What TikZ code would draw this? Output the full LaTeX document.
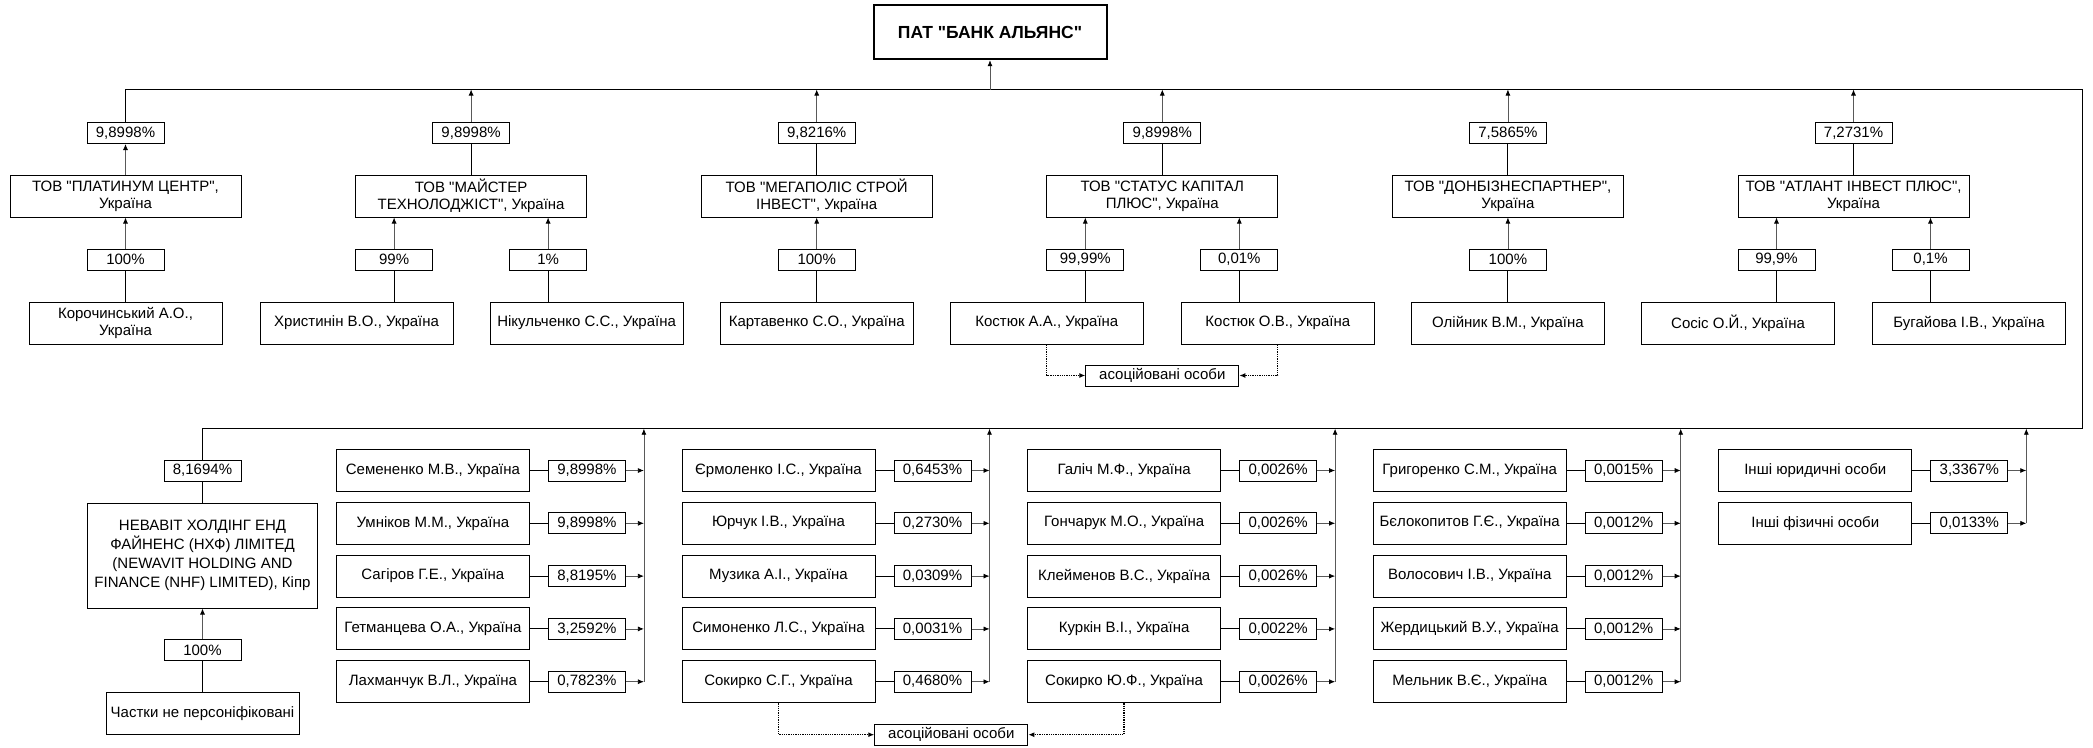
\documentclass[tikz,border=0pt]{standalone}
\usepackage{fontspec}
\setmainfont{Liberation Sans}[Ligatures=TeXOff]
\usetikzlibrary{arrows.meta}

\tikzset{
  owner/.style={draw, line width=1pt, minimum width=193pt, minimum height=42pt, inner sep=0pt, align=center},
  firm/.style={owner, minimum width=231pt},
  share/.style={draw, line width=1pt, minimum width=77pt, minimum height=21pt, inner sep=0pt},
  link/.style={line width=0.9pt},
  up/.style={line width=0.8pt, black!65, -{Latex[length=6pt,width=5pt,color=black]}},
  assoc/.style={line width=1.3pt, densely dotted, -{Latex[length=6pt,width=5pt]}},
}

\begin{document}
\begin{tikzpicture}[x=1pt, y=-1pt, font=\fontsize{15}{17}\selectfont]
\useasboundingbox (0,0) rectangle (2093,747);
\node[draw, line width=2pt, minimum width=233pt, minimum height=54pt, font=\fontsize{17.5}{20}\selectfont\bfseries] (bank) at (990,32.2) {ПАТ "БАНК АЛЬЯНС"};
\coordinate (tr) at (2082,89.5);
\coordinate (br) at (2082,428.7);

% first row of owners
\node[share] (pplat) at (125.5,133) {9,8998\%};
\node[firm] (plat) at (125.5,196) {ТОВ "ПЛАТИНУМ ЦЕНТР",\\Україна};
\node[share] (pkorch) at (125.5,259.5) {100\%};
\node[owner] (korch) at (125.5,323) {Корочинський А.О.,\\Україна};

\node[share] (pmayst) at (471.1,133) {9,8998\%};
\node[firm] (mayst) at (471.1,196) {ТОВ "МАЙСТЕР\\ТЕХНОЛОДЖІСТ", Україна};
\node[share] (pkhrys) at (394.1,259.5) {99\%};
\node[share] (pnikul) at (548.1,259.5) {1\%};
\node[owner] (khrys) at (356.6,323) {Христинін В.О., Україна};
\node[owner] (nikul) at (586.6,323) {Нікульченко С.С., Україна};

\node[share] (pmega) at (816.7,133) {9,8216\%};
\node[firm] (mega) at (816.7,196) {ТОВ "МЕГАПОЛІС СТРОЙ\\ІНВЕСТ", Україна};
\node[share] (pkart) at (816.7,259.5) {100\%};
\node[owner] (kart) at (816.7,323) {Картавенко С.О., Україна};

\node[share] (pstatus) at (1162.3,133) {9,8998\%};
\node[firm] (status) at (1162.3,196) {ТОВ "СТАТУС КАПІТАЛ\\ПЛЮС", Україна};
\node[share] (pkost1) at (1085.3,259.5) {99,99\%};
\node[share] (pkost2) at (1239.3,259.5) {0,01\%};
\node[owner] (kost1) at (1046.8,323) {Костюк А.А., Україна};
\node[owner] (kost2) at (1277.8,323) {Костюк О.В., Україна};
\node[share, minimum width=153pt] (rel1) at (1162.3,375.5) {асоційовані особи};

\node[share] (pdonb) at (1507.9,133) {7,5865\%};
\node[firm] (donb) at (1507.9,196) {ТОВ "ДОНБІЗНЕСПАРТНЕР",\\Україна};
\node[share] (poliin) at (1507.9,259.5) {100\%};
\node[owner] (oliin) at (1507.9,323) {Олійник В.М., Україна};

\node[share] (patlant) at (1853.5,133) {7,2731\%};
\node[firm] (atlant) at (1853.5,196) {ТОВ "АТЛАНТ ІНВЕСТ ПЛЮС",\\Україна};
\node[share] (psosis) at (1776.5,259.5) {99,9\%};
\node[share] (pbuh) at (1930.5,259.5) {0,1\%};
\node[owner] (sosis) at (1738,323) {Сосіс О.Й., Україна};
\node[owner] (buh) at (1969,323) {Бугайова І.В., Україна};

% second row of owners
\node[share] (pnhf) at (202.5,470.6) {8,1694\%};
\node[owner, minimum width=230pt, minimum height=105pt, font=\fontsize{15}{19}\selectfont] (nhf) at (202.5,555.5) {НЕВАВІТ ХОЛДІНГ ЕНД\\ФАЙНЕНС (НХФ) ЛІМІТЕД\\(NEWAVIT HOLDING AND\\FINANCE (NHF) LIMITED), Кіпр};
\node[share] (pchast) at (202.5,650) {100\%};
\node[owner] (chast) at (202.5,713.7) {Частки не персоніфіковані};

% main frame
\draw[link] (pplat.north) |- (tr) -- (br) -| (pnhf.north);
\draw[up] (bank |- tr) -- (bank);
\draw[up] (plat) -- (pplat);
\draw[up] (pkorch) -- (plat);
\draw[link] (korch) -- (pkorch);
\draw[up] (pmayst) -- (pmayst |- tr);
\draw[link] (mayst) -- (pmayst);
\draw[up] (pkhrys.north) -- (pkhrys.north |- mayst.south);
\draw[up] (pnikul.north) -- (pnikul.north |- mayst.south);
\draw[link] (pkhrys.south) -- (pkhrys.south |- khrys.north);
\draw[link] (pnikul.south) -- (pnikul.south |- nikul.north);
\draw[up] (pmega) -- (pmega |- tr);
\draw[link] (mega) -- (pmega);
\draw[up] (pkart) -- (mega);
\draw[link] (kart) -- (pkart);
\draw[up] (pstatus) -- (pstatus |- tr);
\draw[link] (status) -- (pstatus);
\draw[up] (pkost1.north) -- (pkost1.north |- status.south);
\draw[up] (pkost2.north) -- (pkost2.north |- status.south);
\draw[link] (pkost1.south) -- (pkost1.south |- kost1.north);
\draw[link] (pkost2.south) -- (pkost2.south |- kost2.north);
\draw[assoc] (kost1.south) |- (rel1.west);
\draw[assoc] (kost2.south) |- (rel1.east);
\draw[up] (pdonb) -- (pdonb |- tr);
\draw[link] (donb) -- (pdonb);
\draw[up] (poliin) -- (donb);
\draw[link] (oliin) -- (poliin);
\draw[up] (patlant) -- (patlant |- tr);
\draw[link] (atlant) -- (patlant);
\draw[up] (psosis.north) -- (psosis.north |- atlant.south);
\draw[up] (pbuh.north) -- (pbuh.north |- atlant.south);
\draw[link] (psosis.south) -- (psosis.south |- sosis.north);
\draw[link] (pbuh.south) -- (pbuh.south |- buh.north);
\draw[link] (nhf) -- (pnhf);
\draw[up] (pchast) -- (nhf);
\draw[link] (chast) -- (pchast);

\coordinate (busA) at (643.9,428.7);
\coordinate (busB) at (989.5,428.7);
\coordinate (busC) at (1335.1,428.7);
\coordinate (busD) at (1680.7,428.7);
\coordinate (busE) at (2026.3,428.7);

\foreach \i/\who/\val in {1/{Семененко М.В., Україна}/{9,8998\%}, 2/{Умніков М.М., Україна}/{9,8998\%},
  3/{Сагіров Г.Е., Україна}/{8,8195\%}, 4/{Гетманцева О.А., Україна}/{3,2592\%}, 5/{Лахманчук В.Л., Україна}/{0,7823\%}}{
  \node[owner] (a\i) at (432.9,417.7+52.8*\i) {\who};
  \node[share] (pa\i) at (586.9,417.7+52.8*\i) {\val};
  \draw[link] (a\i) -- (pa\i);
  \draw[up] (pa\i) -- (pa\i -| busA);
}
\draw[up] (pa5 -| busA) -- (busA);

\foreach \i/\who/\val in {1/{Єрмоленко І.С., Україна}/{0,6453\%}, 2/{Юрчук І.В., Україна}/{0,2730\%},
  3/{Музика А.І., Україна}/{0,0309\%}, 4/{Симоненко Л.С., Україна}/{0,0031\%}, 5/{Сокирко С.Г., Україна}/{0,4680\%}}{
  \node[owner] (b\i) at (778.5,417.7+52.8*\i) {\who};
  \node[share] (pb\i) at (932.5,417.7+52.8*\i) {\val};
  \draw[link] (b\i) -- (pb\i);
  \draw[up] (pb\i) -- (pb\i -| busB);
}
\draw[up] (pb5 -| busB) -- (busB);

\foreach \i/\who/\val in {1/{Галіч М.Ф., Україна}/{0,0026\%}, 2/{Гончарук М.О., Україна}/{0,0026\%},
  3/{Клейменов В.С., Україна}/{0,0026\%}, 4/{Куркін В.І., Україна}/{0,0022\%}, 5/{Сокирко Ю.Ф., Україна}/{0,0026\%}}{
  \node[owner] (c\i) at (1124.1,417.7+52.8*\i) {\who};
  \node[share] (pc\i) at (1278.1,417.7+52.8*\i) {\val};
  \draw[link] (c\i) -- (pc\i);
  \draw[up] (pc\i) -- (pc\i -| busC);
}
\draw[up] (pc5 -| busC) -- (busC);

\foreach \i/\who/\val in {1/{Григоренко С.М., Україна}/{0,0015\%}, 2/{Бєлокопитов Г.Є., Україна}/{0,0012\%},
  3/{Волосович І.В., Україна}/{0,0012\%}, 4/{Жердицький В.У., Україна}/{0,0012\%}, 5/{Мельник В.Є., Україна}/{0,0012\%}}{
  \node[owner] (d\i) at (1469.7,417.7+52.8*\i) {\who};
  \node[share] (pd\i) at (1623.7,417.7+52.8*\i) {\val};
  \draw[link] (d\i) -- (pd\i);
  \draw[up] (pd\i) -- (pd\i -| busD);
}
\draw[up] (pd5 -| busD) -- (busD);

\foreach \i/\who/\val in {1/{Інші юридичні особи}/{3,3367\%}, 2/{Інші фізичні особи}/{0,0133\%}}{
  \node[owner] (e\i) at (1815.3,417.7+52.8*\i) {\who};
  \node[share] (pe\i) at (1969.3,417.7+52.8*\i) {\val};
  \draw[link] (e\i) -- (pe\i);
  \draw[up] (pe\i) -- (pe\i -| busE);
}
\draw[up] (pe2 -| busE) -- (busE);

\node[share, minimum width=153pt] (rel2) at (951.3,734.7) {асоційовані особи};
\draw[assoc] (b5.south) |- (rel2.west);
\draw[assoc] (c5.south) |- (rel2.east);
\end{tikzpicture}
\end{document}
